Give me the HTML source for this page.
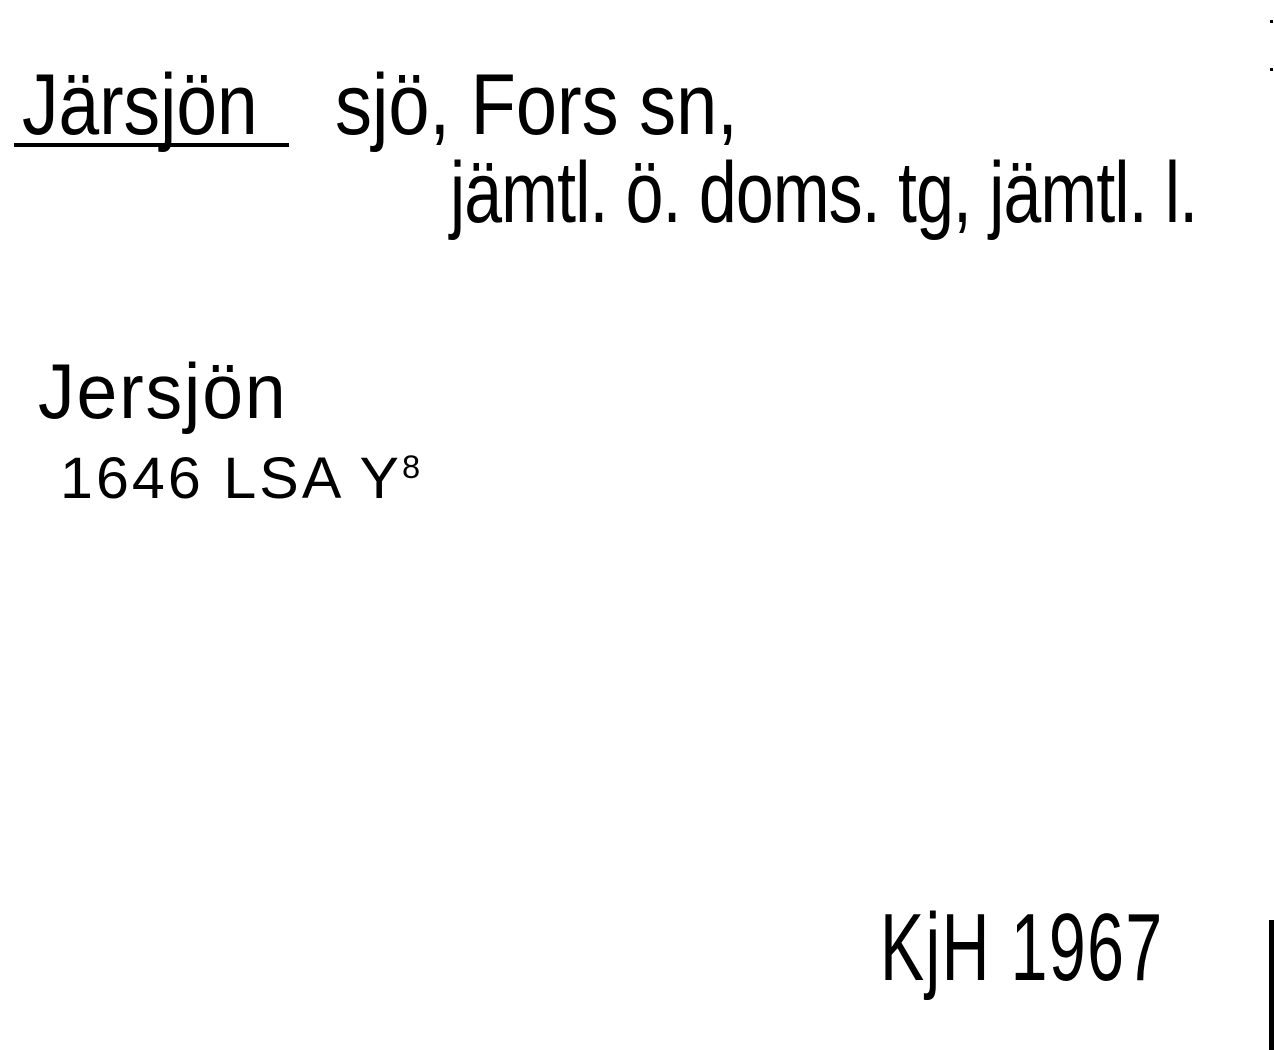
<!DOCTYPE html>
<html><head><meta charset="utf-8"><style>
html,body{margin:0;padding:0;background:#fff;}
body{width:1274px;height:1050px;position:relative;overflow:hidden;font-family:"Liberation Sans",sans-serif;color:#000;}
.t{position:absolute;white-space:nowrap;line-height:1;transform-origin:left top;}
</style></head><body>
<div class="t" style="left:22px;top:62px;font-size:86px;transform:scaleX(0.85);">Järsjön</div>
<div style="position:absolute;left:14px;top:143px;width:275px;height:4px;background:#000;"></div>
<div class="t" style="left:335px;top:62px;font-size:86px;transform:scaleX(0.86);">sjö, Fors sn,</div>
<div class="t" style="left:450px;top:150px;font-size:86px;letter-spacing:-1px;transform:scaleX(0.79);">jämtl. ö. doms. tg, jämtl. l.</div>
<div class="t" style="left:38px;top:352px;font-size:78px;letter-spacing:2px;transform:scaleX(0.94);">Jersjön</div>
<div class="t" style="left:60px;top:450px;font-size:58px;letter-spacing:3px;transform:scaleX(1.02);">1646 LSA Y<span style="font-size:32px;vertical-align:20px;">8</span></div>
<div class="t" style="left:880px;top:900px;font-size:96px;letter-spacing:2px;transform:scaleX(0.69);">KjH 1967</div>
<div style="position:absolute;left:1269px;top:920px;width:5px;height:130px;background:#000;"></div>
<div style="position:absolute;left:1270px;top:20px;width:3px;height:3px;background:#000;"></div>
<div style="position:absolute;left:1270px;top:68px;width:3px;height:3px;background:#000;"></div>
</body></html>
